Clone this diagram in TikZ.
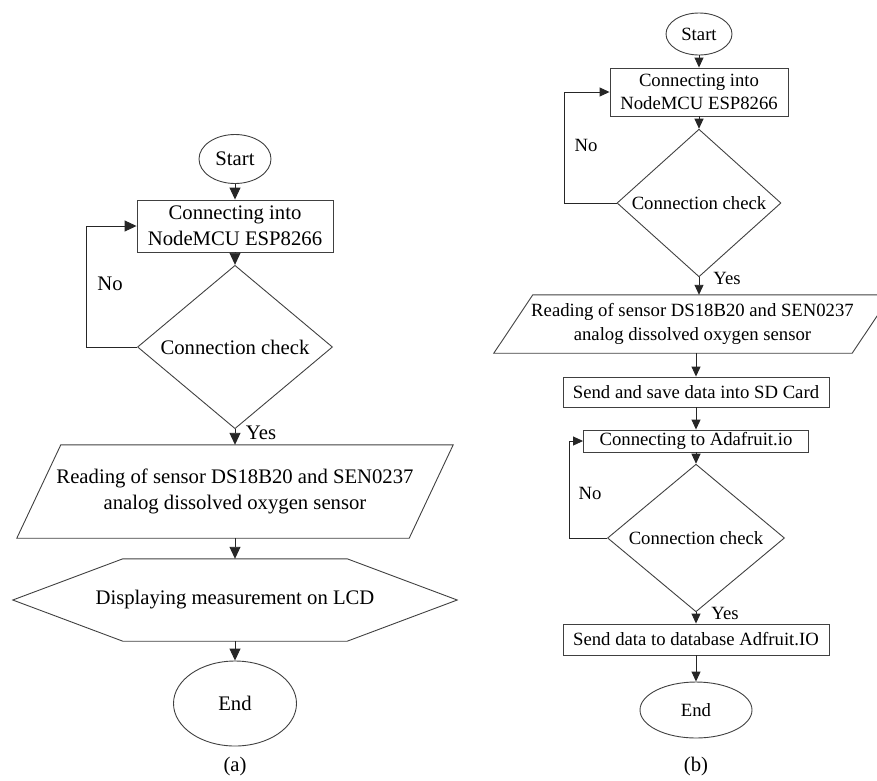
\documentclass[tikz,border=0pt]{standalone}
\usepackage{fontspec}
\setmainfont{Liberation Serif}
\usepackage{tikz}
\usetikzlibrary{arrows.meta,shapes.geometric}
\tikzset{
	shapeline/.style={draw=black!75, line width=0.9pt},
	terma/.style={shapeline, ellipse, inner sep=0pt},
	boxa/.style={shapeline, rectangle, inner sep=0pt, align=center},
	checka/.style={shapeline, diamond, inner sep=0pt, align=center},
	plain/.style={inner sep=0pt, align=center},
	arra/.style={draw=black!85, line width=0.9pt, -{Triangle[length=12pt,width=11pt]}},
	arrb/.style={draw=black!85, line width=0.9pt, -{Triangle[length=10pt,width=9pt]}},
	fonta/.style={font=\fontsize{20.7}{26}\selectfont},
	fontb/.style={font=\fontsize{18.7}{23.5}\selectfont}
}
\def\slantframe(#1)(#2){\draw[shapeline] ([xshift=#2]#1.north west) -- (#1.north east) -- ([xshift=-#2]#1.south east) -- (#1.south west) -- cycle;}
\def\hexframe(#1)(#2){\draw[shapeline] (#1.west) -- ([xshift=#2]#1.north west) -- ([xshift=-#2]#1.north east) -- (#1.east) -- ([xshift=-#2]#1.south east) -- ([xshift=#2]#1.south west) -- cycle;}

\begin{document}
\begin{tikzpicture}[x=1pt, y=-1pt]
			%%%%% START %%%%%
			
			\useasboundingbox (0, 0) rectangle (877, 780);
			\clip (0, 0) rectangle (877, 780);
			
			%%%%% (a) %%%%%
			\node[terma, fonta, minimum width=72pt, minimum height=49pt] (startA) at (235, 159) {Start};
			\node[boxa, fonta, minimum width=196pt, minimum height=52pt] (connA) at (235, 226) {Connecting into\\NodeMCU ESP8266};
			\node[checka, fonta, minimum width=195pt, minimum height=151pt] (checkA) at (235, 347) {Connection check};
			\node[plain, fonta, minimum width=436pt, minimum height=93pt] (readA) at (235, 491.5) {Reading of sensor DS18B20 and SEN0237\\analog dissolved oxygen sensor};
			\slantframe(readA)(44pt)
			\node[plain, fonta, minimum width=444pt, minimum height=82pt] (dispA) at (235, 600) {Displaying measurement on LCD};
			\hexframe(dispA)(110pt)
			\node[terma, fonta, minimum width=123pt, minimum height=85pt] (endA) at (235, 703.5) {End};
			
			\node[plain, fonta] (noA) at (110, 284) {No};
			\node[plain, fonta] (yesA) at (261, 433) {Yes};
			\node[plain, fonta] (capA) at (235, 767) {(a)};
			
			\draw[arra] (startA.south) -- (connA.north);
			\draw[arra] (connA.south) -- (checkA.north);
			\draw[arra] (checkA.south) -- (readA.north);
			\draw[arra] (readA.south) -- (dispA.north);
			\draw[arra] (dispA.south) -- (endA.north);
			\draw[arra] (checkA.west) -- ++(-51, 0) |- (connA.west);
			
			%%%%% (b) %%%%%
			\node[terma, fontb, minimum width=66pt, minimum height=42pt] (startB) at (699, 34) {Start};
			\node[boxa, fontb, minimum width=178pt, minimum height=48pt] (connB) at (699, 92) {Connecting into\\NodeMCU ESP8266};
			\node[checka, fontb, minimum width=164pt, minimum height=138pt] (checkB) at (699, 203) {Connection check};
			\node[plain, fontb, minimum width=397pt, minimum height=58pt] (readB) at (692.5, 324) {Reading of sensor DS18B20 and SEN0237\\analog dissolved oxygen sensor};
			\slantframe(readB)(39pt)
			\node[boxa, fontb, minimum width=266pt, minimum height=30pt] (sdB) at (696, 392) {Send and save data into SD Card};
			\node[boxa, fontb, minimum width=225pt, minimum height=22pt] (adaB) at (696, 441) {Connecting to Adafruit.io};
			\node[checka, fontb, minimum width=177pt, minimum height=138pt] (check2B) at (696, 538) {Connection check};
			\node[boxa, fontb, minimum width=266pt, minimum height=31pt] (sendB) at (696, 639.5) {Send data to database Adfruit.IO};
			\node[terma, fontb, minimum width=112pt, minimum height=56pt] (endB) at (696, 710) {End};
			
			\node[plain, fontb] (noB) at (586, 145) {No};
			\node[plain, fontb] (yesB) at (727, 278) {Yes};
			\node[plain, fontb] (no2B) at (590, 493) {No};
			\node[plain, fontb] (yes2B) at (725, 613) {Yes};
			\node[plain, fonta] (capB) at (696, 767) {(b)};
			
			\draw[arrb] (startB.south) -- (connB.north);
			\draw[arrb] (connB.south) -- (checkB.north);
			\draw[arrb] (checkB.south) -- (checkB.south |- readB.north);
			\draw[arrb] (sdB.north |- readB.south) -- (sdB.north);
			\draw[arrb] (sdB.south) -- (adaB.north);
			\draw[arrb] (adaB.south) -- (check2B.north);
			\draw[arrb] (check2B.south) -- (sendB.north);
			\draw[arrb] (sendB.south) -- (endB.north);
			\draw[arrb] (checkB.west) -- ++(-52, 0) |- (connB.west);
			\draw[arrb] (check2B.west) -- ++(-38, 0) |- (adaB.west);
			
			%%%%% END %%%%%
\end{tikzpicture}
\end{document}
